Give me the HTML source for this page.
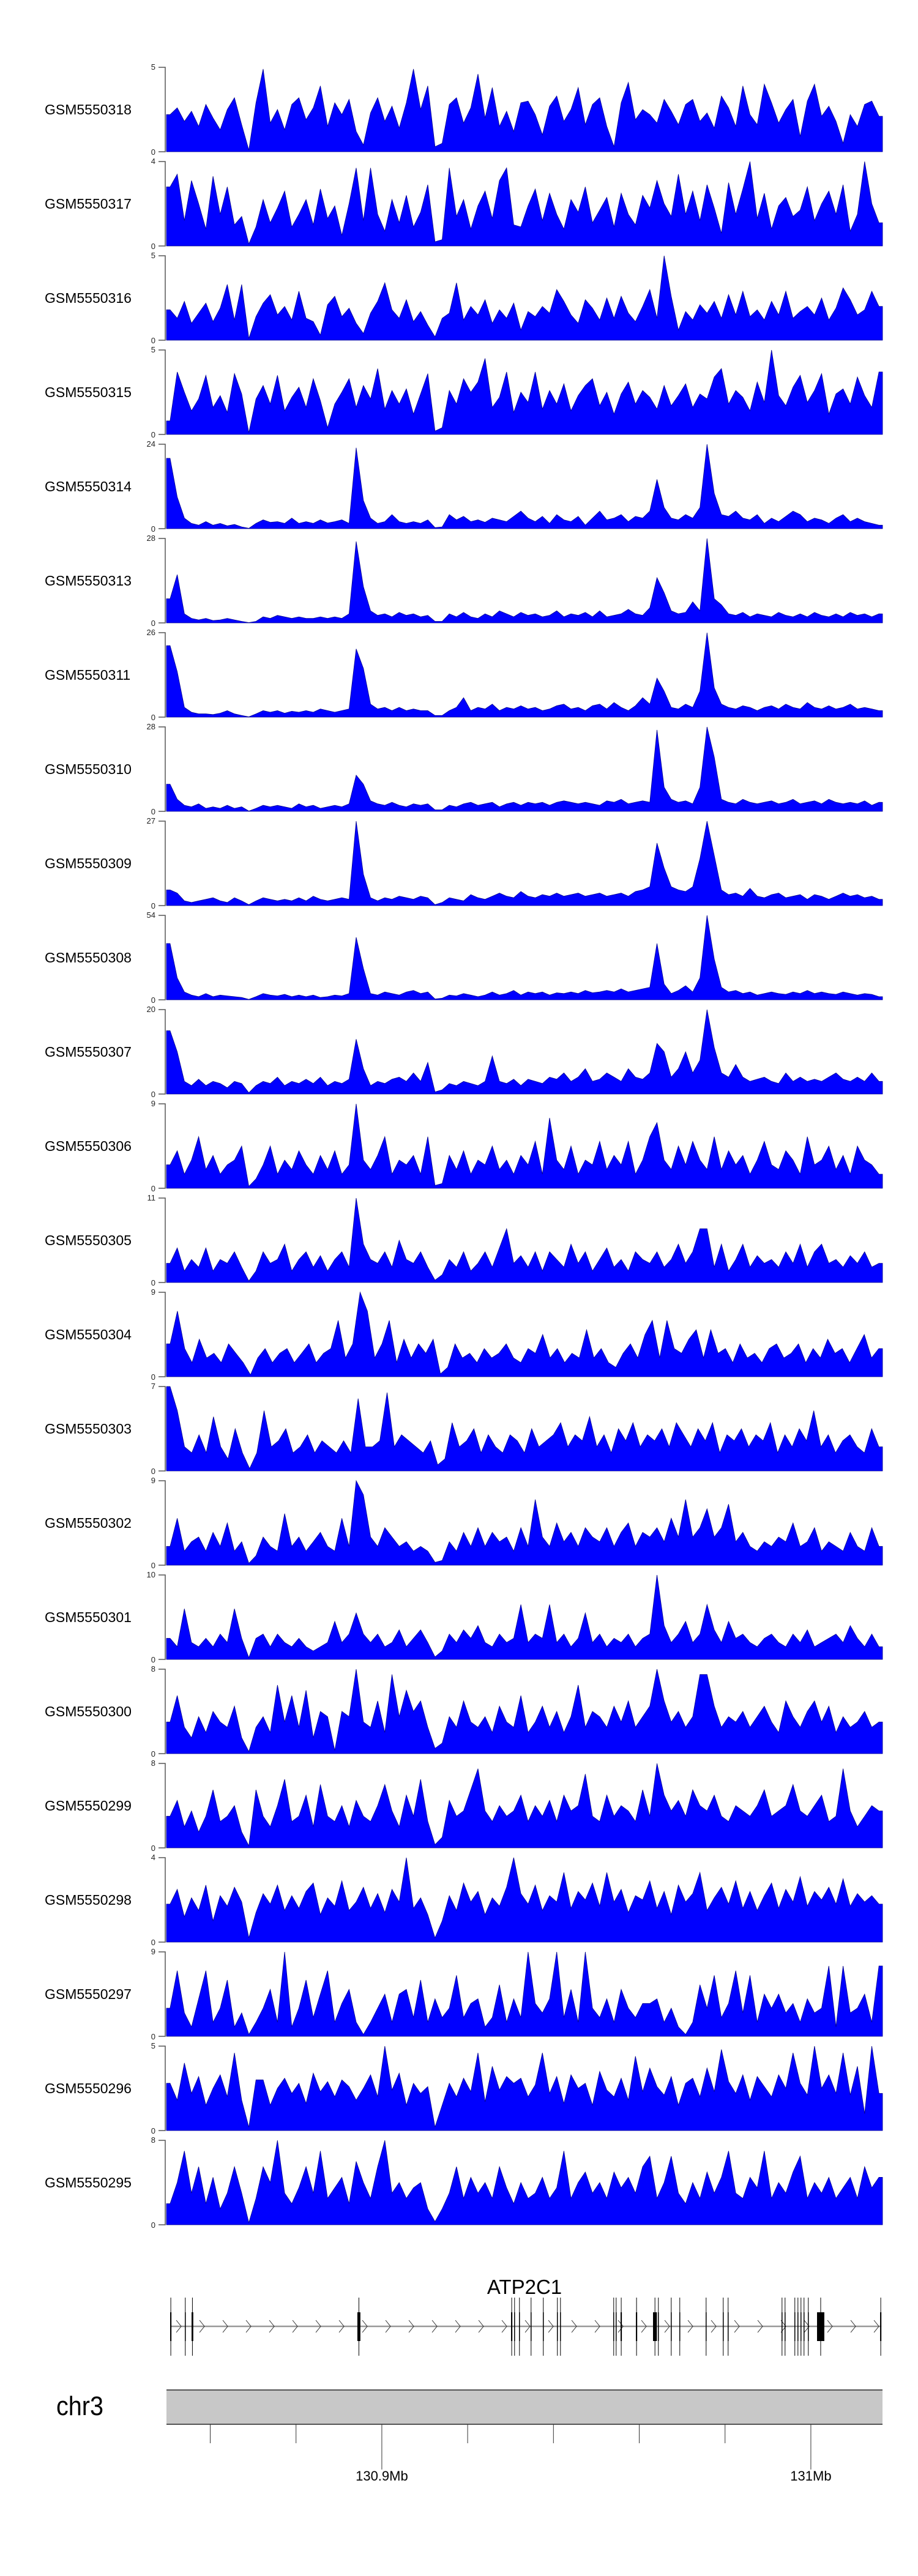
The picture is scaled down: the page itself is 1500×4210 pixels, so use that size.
<!DOCTYPE html>
<html><head><meta charset="utf-8"><style>
html,body{margin:0;padding:0;background:#fff;}
svg{display:block;font-family:"Liberation Sans",Arial,sans-serif;}
</style></head><body>
<svg id="chart" width="1500" height="4210" viewBox="0 0 1500 4210" xmlns="http://www.w3.org/2000/svg">
<rect x="0" y="0" width="1500" height="4210" fill="#fff"/>
</svg>
<script>
const sampleNames=["GSM5550318","GSM5550317","GSM5550316","GSM5550315","GSM5550314","GSM5550313","GSM5550311","GSM5550310","GSM5550309","GSM5550308","GSM5550307","GSM5550306","GSM5550305","GSM5550304","GSM5550303","GSM5550302","GSM5550301","GSM5550300","GSM5550299","GSM5550298","GSM5550297","GSM5550296","GSM5550295"];
const yMaxLabels=[5,4,5,5,24,28,26,28,27,54,20,9,11,9,7,9,10,8,8,4,9,5,8];
const s318=[2.2,2.6,1.8,2.4,1.5,2.8,2.0,1.3,2.5,3.2,1.6,0.1,2.9,4.9,1.7,2.5,1.3,2.8,3.2,1.9,2.6,3.9,1.5,2.9,2.2,3.1,1.2,0.4,2.3,3.2,1.8,2.7,1.4,2.9,4.9,2.5,3.9,0.3,0.5,2.8,3.2,1.7,2.6,4.6,2.0,3.8,1.5,2.4,1.2,2.9,3.0,2.2,1.0,2.7,3.3,1.8,2.5,3.8,1.6,2.8,3.2,1.5,0.3,2.9,4.1,1.9,2.5,2.2,1.7,3.1,2.4,1.6,2.8,3.1,1.8,2.3,1.4,3.3,2.6,1.5,3.9,2.2,1.6,4.0,2.9,1.7,2.5,3.1,0.9,3.0,4.0,2.1,2.7,1.8,0.5,2.2,1.5,2.8,3.0,2.1];
const s317=[2.8,3.4,1.2,3.1,2.0,0.8,3.3,1.5,2.8,1.0,1.4,0.1,0.9,2.2,1.1,1.8,2.6,0.9,1.5,2.2,1.0,2.7,1.3,1.9,0.5,2.0,3.7,1.2,3.7,1.5,0.7,2.2,1.1,2.4,0.9,1.6,2.9,0.2,0.3,3.7,1.4,2.2,0.8,1.9,2.6,1.3,3.1,3.7,1.0,0.9,1.9,2.7,1.2,2.5,1.5,0.8,2.2,1.6,2.8,1.1,1.7,2.3,0.9,2.5,1.5,1.0,2.4,1.8,3.1,2.0,1.4,3.4,1.5,2.6,1.2,2.9,1.8,0.6,3.0,1.5,2.7,4.0,1.3,2.5,0.8,1.9,2.3,1.4,1.7,2.8,1.2,2.0,2.6,1.5,2.9,0.7,1.5,4.0,2.0,1.1];
const s316=[1.8,1.3,2.3,1.0,1.6,2.2,1.1,1.9,3.3,1.2,3.3,0.1,1.4,2.2,2.7,1.5,2.0,1.2,2.9,1.3,1.1,0.3,2.1,2.6,1.4,1.9,1.0,0.4,1.6,2.3,3.4,1.8,1.3,2.4,1.1,1.7,0.9,0.2,1.3,1.6,3.4,1.2,2.0,1.5,2.4,1.0,1.8,1.3,2.2,0.6,1.7,1.4,2.0,1.6,3.0,2.3,1.5,1.0,2.4,1.9,1.2,2.5,1.3,2.6,1.6,1.1,2.0,3.0,1.3,5.0,2.6,0.6,1.7,1.2,2.1,1.6,2.3,1.3,2.7,1.5,2.9,1.4,1.8,1.2,2.3,1.5,2.9,1.3,1.7,2.0,1.5,2.5,1.2,1.9,3.1,2.4,1.5,1.8,2.9,2.0];
const s315=[0.8,3.7,2.5,1.4,2.1,3.5,1.6,2.3,1.3,3.6,2.4,0.1,2.1,2.9,1.8,3.5,1.4,2.2,2.8,1.6,3.3,2.0,0.4,1.8,2.5,3.3,1.6,2.9,2.1,3.9,1.5,2.6,1.8,2.7,1.2,2.4,3.6,0.2,0.4,2.6,1.8,3.3,2.5,3.1,4.5,1.6,2.2,3.7,1.3,2.5,1.9,3.7,1.5,2.6,1.8,3.0,1.4,2.3,2.9,3.3,1.7,2.5,1.2,2.4,3.1,1.8,2.6,2.2,1.5,2.9,1.7,2.3,3.0,1.6,2.4,2.1,3.4,3.9,1.8,2.6,2.2,1.4,3.1,1.9,5.0,2.3,1.7,2.8,3.5,1.9,2.6,3.6,1.2,2.4,2.7,1.8,3.4,2.3,1.6,3.7];
const s314=[20,9,3,1.5,1,2,1,1.5,0.8,1.2,0.5,0.1,1.5,2.5,1.8,2,1.5,3,1.5,2,1.5,2.5,1.6,2,2.5,1.5,23,8,3,1.5,2,4,2,1.5,2,1.5,2.5,0.3,0.5,4,2.5,3.5,2,2.5,1.8,3,2.5,2,3.5,5,3,2,3.5,1.5,4,2.5,2,3.5,1,3,5,2.5,3,4,2,3.5,3,5,14,6,3,2.5,4,3,6,24,10,4,3.5,5,3,2.5,4,1.5,3,2,3.5,5,4,2,3,2.5,1.5,3,4,2,3,2,1.5,1];
const s313=[8,16,3,1.5,1,1.5,0.8,1,1.5,1,0.5,0.1,0.5,2,1.5,2.5,2,1.5,2,1.5,1.5,2,1.5,2,1.5,3,27,12,4,2.5,3,2,3.5,2.5,3,2,2.5,0.5,0.5,3,2,3.5,2,1.5,3,2,4,3,2,3.5,2.5,3,2,2.5,4,2,3,2.5,3.5,2,4,2,2.5,3,4.5,3,2.5,5,15,10,4,3,3.5,7,4,28,8,6,3,2.5,3.5,2,3,2.5,2,3.5,2.5,2,3,2,3.5,2.5,2,3,2,3.5,2.5,3,2,3];
const s311=[22,14,3,1.5,1,1,0.8,1.2,2,1,0.5,0.1,1,2,1.5,2,1.2,1.8,1.5,2,1.5,2.5,2,1.5,2,2.5,21,15,4,2.5,3,2,3,2,2.5,2,2,0.5,0.5,2,3,6,2,3,2.5,4,2,3,2.5,3.5,2.5,3,2,2.5,3.5,4,2.5,3,2,3.5,4,2.5,4.5,3,2,3.5,6,4,12,8,3,2.5,4,3,8,26,9,4,3,2.5,3.5,3,2,3,3.5,2.5,4,3,2.5,4.5,3,2.5,3.5,2.5,3,4,2.5,3,2.5,2];
const s310=[9,4,2,1.5,2.5,1,1.5,1,2,1,1.5,0.1,1,2,1.5,2,1.5,1,2.5,1.5,2,1,1.5,2,1.5,2.5,12,9,3.5,2.5,2,3,2,1.5,2.5,2,2.5,0.5,0.5,2,1.5,2.5,3,2,2.5,3,1.5,2.5,3,2,3,2.5,3,2,3,3.5,3,2.5,3,2.5,2,3.5,3,4,2.5,3,3.5,3,27,8,4,3,3.5,2.5,8,28,18,4,3,2.5,4,3,2.5,3,3.5,2.5,3,4,2.5,3,3.5,2.5,4,3,2.5,3,2.5,3.5,2,3];
const s309=[5,4,1.5,1,1.5,2,2.5,1.5,1,2.5,1.5,0.3,1.5,2.5,2,1.5,2,1.5,2.5,1.5,3,2,1.5,2,2.5,2,27,10,2.5,1.5,2.5,2,3,2.5,2,3,2.5,0.3,1,2.5,2,1.5,3.5,2.5,2,3,4,3,2.5,4.5,3,2.5,3.5,3,4,3,3.5,4,3,3.5,4,3,3.5,4,3,4.5,5,6,20,12,6,5,4.5,6,15,27,16,5,3.5,4,3,5.5,3,2.5,3.5,4,2.5,3,3.5,2,3.5,3,2,3,4,3,3.5,2.5,3,2];
const s308=[36,14,5,3,2,4,2,3,2.5,2,1.5,0.3,2,4,3,2.5,3.5,2,3,2,3,1.5,2,3,2.5,4,40,20,4,3,5,4,3,5,6,4,5,0.5,1,3,2.5,4,3,2,3,5,3,4,6,3,5,4,5,3,4.5,4,5,4,6,4.5,5,6,5,7,5,6,7,8,36,10,4,6,9,5,14,54,26,8,5,6,4,5,3,4,5,4,3.5,5,4,6,4,5,4,3.5,5,4,3,4,3.5,2];
const s307=[15,10,3,2,3.5,2,3,2.5,1.5,3,2.5,0.3,2,3,2.5,4,2,3,2.5,3.5,2.5,4,2,3,2.5,3.5,13,6,2,3,2.5,3.5,4,3,5,3,7.5,0.5,1,2.5,2,3,2.5,2,3,9,3,2.5,3.5,2,3.5,3,2.5,4,3.5,5,3,4,6,3,3.5,5,4,3,6,4,3.5,5,12,10,4,6,10,5,8,20,11,5,4,7,4,3,3.5,4,3,2.5,5,3,4,3,3.5,3,4,5,3.5,3,4,3,5,3];
const s306=[2.5,4,1.5,3,5.5,2,3.5,1.5,2.5,3,4.5,0.2,1,2.5,4.5,1.5,3,2,4,2.5,1.5,3.5,2,4,1.5,2.5,9,3,2,3.5,5.5,1.5,3,2.5,3.5,1.5,5.5,0.3,0.5,3.5,2,4,1.5,3,2.5,4.5,2,3,1.5,3.5,2.5,5,1.5,7.5,3,2,4.5,1.5,3,2.5,5,2,3.5,2.5,5,1.5,3,5.5,7,3,2,4.5,2.5,5,3,2,5.5,2,4,2.5,3.5,1.5,3,5,2.5,2,4,3,1.5,5.5,2.5,3,4.5,2,3.5,1.5,4.5,3,2.5,1.5];
const s305=[2.5,4.5,1.5,3,2,4.5,1.5,3,2.5,4,2,0.2,1.5,4,2.5,3,5,1.5,3,4,2,3.5,1.5,3,4,2,11,5,3,2.5,4,2,5.5,3,2.5,4,2,0.3,1,3,2,4,1.5,2.5,4,2,4.5,7,2.5,3.5,2,4,1.5,4,3,2,5,2.5,4,1.5,3,4.5,2,3,1.5,4,3,2.5,4,2,3,5,2.5,4,7,7,2,5,1.5,3,5,2,3.5,2.5,3,2,4,2.5,5,2,4,5,2.5,3,2,3.5,2.5,4,2,2.5];
const s304=[3.5,7,3,1.5,4,2,2.5,1.5,3.5,2.5,1.5,0.2,2,3,1.5,2.5,3,1.5,2.5,3.5,1.5,2.5,3,6,2,3.5,9,7,2,3.5,6,1.5,4,2,3.5,2.5,4,0.3,1,3.5,2,2.5,1.5,3,2,2.5,3.5,2,1.5,3,2.5,4.5,2,3,1.5,2.5,2,5,2,3,1.5,1,2.5,3.5,2,4.5,6,2,6,3,2.5,4,5,2,5,2.5,3,1.5,3.5,2,2.5,1.5,3,3.5,2,2.5,3.5,1.5,3,2,4,2.5,3,1.5,3,4.5,2,3];
const s303=[7,5,2,1.5,3,1.5,4.5,2,1,3.5,1.5,0.2,1.5,5,2,2.5,3.5,1.5,2,3,1.5,2.5,2,1.5,2.5,1.5,6,2,2,2.5,6.5,2,3,2.5,2,1.5,2.5,0.5,1,4,2,2.5,3.5,1.5,3,2,1.5,3,2.5,1.5,3.5,2,2.5,3,4,2,3,2.5,4.5,2,3,1.5,3.5,2.5,4,2,3,2.5,3.5,2,4,3,2,3.5,2.5,4,1.5,3,2.5,3.5,2,3,2.5,4,1.5,3,2,3.5,2.5,5,2,3,1.5,2.5,3,2,1.5,3.5,2];
const s302=[2,5,1.5,2.5,3,1.5,3.5,2,4.5,1.5,2.5,0.2,1,3,2,1.5,5.5,2,3,1.5,2.5,3.5,2,1.5,5,2,9,7.5,3,2,4,3,2,2.5,1.5,2,1.5,0.3,0.5,2.5,1.5,3.5,2,4,2,3.5,2.5,3,1.5,4,2,7,3,2,4.5,2.5,3.5,2,4,3,2.5,4,2,3.5,4.5,2,3.5,3,4,2.5,5,3,7,3,4,6,3,4,6.5,2.5,3.5,2,1.5,2.5,2,3,2.5,4.5,2,2.5,4,1.5,2.5,2,1.5,3.5,2,1.5,4,2];
const s301=[2.5,1.5,6,2,1.5,2.5,1.5,3,2,6,2.5,0.2,2.5,3,1.5,3,2,1.5,2.5,1.5,1,1.5,2,4.5,2,3,5.5,3,2,3,1.5,2,3.5,1.5,2.5,3.5,2,0.3,1,3,2,3.5,2.5,4,2,1.5,3,2,2.5,6.5,2,3,2.5,6.5,2,3,1.5,2.5,5.5,2,3,1.5,2.5,2,3,1.5,2.5,3,10,4,2,3,4.5,2,3,6.5,3.5,2,4.5,2.5,3,2,1.5,2.5,3,2,1.5,3,2,3.5,1.5,2,2.5,3,2,4,2.5,1.5,3,1.5];
const s300=[3,5.5,2.5,1.5,3.5,2,4,3,2.5,4.5,1.5,0.2,2.5,3.5,2,6.5,3,5.5,2.5,6,1.5,4,3.5,0.3,4,3.5,8,3,2.5,5,2,7.5,3.5,6,4,5,2.5,0.5,1,3.5,2.5,5,3,2.5,3.5,2,4.5,3,2.5,5.5,2,3,4.5,2.5,4,2,3.5,6.5,2.5,4,3.5,2.5,4.5,3,5,2.5,3.5,4.5,8,5,3,4,2.5,3.5,7.5,7.5,4.5,2.5,3.5,3,4,2.5,3.5,4.5,3,2,5,3.5,2.5,4,5,3,4.5,2,3.5,2.5,3,4,2.5,3];
const s299=[3,4.5,2,3.5,1.5,3,5.5,2.5,3,4,1.5,0.2,5.5,3,2,4,6.5,2.5,3,5,2,6,3,2.5,4,2,4.5,3,2.5,4,6,3.5,2,5,3,6.5,2.5,0.3,1,4.5,3,3.5,5.5,7.5,3.5,2.5,4,3,3.5,5,2.5,4,3,4.5,2.5,5,3.5,4,7,3,2.5,5,3,4,3.5,2.5,5.5,3,8,5,3.5,4.5,3,5.5,4,3.5,5,3,2.5,4,3.5,3,4,5.5,3,3.5,4,6,3.5,3,4,5,2.5,3,7.5,3.5,2,3,4,3.5];
const s298=[1.8,2.5,1.2,2.1,1.5,2.7,1.0,2.2,1.7,2.6,1.9,0.2,1.4,2.3,1.8,2.7,1.5,2.2,1.6,2.4,2.8,1.3,2.1,1.7,2.9,1.5,1.9,2.6,1.6,2.3,1.4,2.5,1.9,4.0,1.6,2.1,1.3,0.2,1.0,2.2,1.5,2.8,1.9,2.4,1.3,2.1,1.7,2.6,4.0,2.3,1.8,2.7,1.5,2.2,1.9,3.3,1.6,2.4,2.0,2.8,1.7,3.3,1.9,2.5,1.4,2.2,2.0,2.9,1.6,2.4,1.3,2.7,1.9,2.3,3.3,1.5,2.1,2.6,1.8,2.9,1.6,2.4,1.5,2.2,2.8,1.6,2.5,1.9,3.1,1.7,2.4,2.0,2.6,1.8,3.0,1.7,2.3,1.9,2.2,1.8];
const s297=[3,7,2.5,1,4,7,1.5,3,6,1,2.5,0.2,1.5,3,5,1.5,9,1,3,6,2,4.5,7,1.5,3.5,5,1.5,0.2,1.5,3,4.5,1.5,4.5,5,2,6,1.5,4,2,3,6.5,2,3.5,4,1,2,5.5,1.5,4,2,9,3.5,2.5,4,9,2,5,1.5,9,3,2,4,1.5,5,3,2,3.5,3.5,4,1.5,3,1,0.2,1.5,5.5,3,6.5,2,3.5,7,2.5,6.5,1.5,4.5,3,4.5,2.5,3.5,1.5,4,2.5,3,7.5,1,7.5,2.5,3,4.5,1.5,7.5];
const s296=[2.8,1.8,4,2.2,3.2,1.5,2.5,3.3,2,4.6,1.8,0.2,3,3,1.5,2.5,3.1,2.2,2.8,1.6,3.4,2.3,2.9,2,3,2.6,1.8,2.5,3.3,2,5,2.4,3.4,1.5,2.8,2.2,2.6,0.2,1.5,2.8,2,3.1,2.3,4.6,1.7,3.8,2.4,3.2,2.8,3.1,2,2.7,4.6,2.2,3.2,1.6,3.3,2.5,2.8,1.5,3.5,2.4,2,3.1,1.8,4.4,2.3,3.7,2.6,2.1,3.2,1.5,2.8,3.1,2,3.7,2.3,4.8,2.9,2.2,3.3,1.8,3.2,2.6,2,3.3,2.5,4.6,2.8,2.1,5,2.5,3.3,2.2,4.6,2.1,3.8,1,5,2.2];
const s295=[2,4,7,3,5.5,2,4.5,1.5,3,5.5,3,0.2,2.5,5.5,4,8,3,2,3.5,5.5,3,7,2.5,3.5,4.5,2,6,4,2.5,5.5,8,3,4,2.5,3.5,4,1.5,0.3,1.5,3,5.5,2.5,4.5,3,4,2.5,5.5,3.5,2,4,2.5,3,4.5,2.5,3.5,7,2.5,4,5,3,4,2.5,5,3.5,4.5,3,5.5,6.5,2.5,4,6.5,3,2,4,2.5,5,3,4.5,7,3,2.5,4.5,3.5,7,2.5,4,3,5,6.5,2.5,4,3,4.5,2.5,3.5,4.5,2.5,5.5,3.5,4.5];
const seriesValues=[s318,s317,s316,s315,s314,s313,s311,s310,s309,s308,s307,s306,s305,s304,s303,s302,s301,s300,s299,s298,s297,s296,s295];
// gene model (Mb positions)
const exonStarts=[130.85066,130.85408,130.85565,130.89430,130.93012,130.93083,130.93197,130.93468,130.93753,130.94081,130.94153,130.95394,130.95451,130.95565,130.95922,130.96321,130.96435,130.96735,130.96934,130.97548,130.97947,130.98061,130.99317,130.99388,130.99616,130.99688,130.99759,130.99830,130.99930,131.00144,131.01614];
const exonWidths=[0.0003,0.0002,0.0004,0.0007,0.0003,0.0001,0.0001,0.0001,0.0001,0.0001,0.0001,0.0001,0.0001,0.0003,0.0003,0.0009,0.0001,0.0001,0.0001,0.0001,0.0001,0.0001,0.0001,0.0001,0.0001,0.0001,0.0001,0.0001,0.0001,0.0017,0.0003];
const axisTicks=[130.86,130.88,130.90,130.92,130.94,130.96,130.98,131.00];
const axisTickLabels={"130.9":"130.9Mb","131":"131Mb"};

const NS="http://www.w3.org/2000/svg";
const svg=document.getElementById('chart');
function mk(tag,attrs,parent){const e=document.createElementNS(NS,tag);for(const k in attrs)e.setAttribute(k,attrs[k]);(parent||svg).appendChild(e);return e;}
const X0=272,X1=1442,TOP0=110,PITCH=154,PH=138;
const mbMin=130.8498,mbMax=131.0167;
function xMb(m){return X0+(m-mbMin)/(mbMax-mbMin)*(X1-X0);}

seriesValues.forEach((vals,i)=>{
  const top=TOP0+i*PITCH,bot=top+PH,max=yMaxLabels[i];
  const g=mk('g',{});
  
  
  const lab=mk('text',{x:73,y:top+PH/2+8,'font-size':23,fill:'#000'},g);
  lab.textContent=sampleNames[i];
  
  
  const ax=mk('path',{d:`M259 ${top}H270V${bot}H259`,stroke:'#555',fill:'none','stroke-width':1.5},g);
  
  
  const t1=mk('text',{x:254,y:top+4,'font-size':13,'text-anchor':'end',fill:'#222'},g);
  t1.textContent=max;
  
  
  const t0=mk('text',{x:254,y:bot+5,'font-size':13,'text-anchor':'end',fill:'#222'},g);
  t0.textContent='0';
  
  
  const n=vals.length;
  const xv=k=>X0+(k+0.5)/n*(X1-X0);
  const yv=v=>bot-Math.min(v,max)/max*PH;
  let d=`M${X0} ${bot}L${X0} ${yv(vals[0])}`;
  vals.forEach((v,k)=>{d+=`L${xv(k).toFixed(1)} ${yv(v).toFixed(1)}`;});
  d+=`L${X1} ${yv(vals[n-1])}L${X1} ${bot}Z`;
  const area=mk('path',{d:d,fill:'#0000ff',stroke:'#00008b','stroke-width':0.8,'stroke-linejoin':'miter'},g);
  
  
});

// gene track
const gg=mk('g',{});


const gname=mk('text',{x:857,y:3749,'font-size':33,'text-anchor':'middle',fill:'#000'},gg);
gname.textContent='ATP2C1';


const gStart=xMb(exonStarts[0]),gEnd=xMb(exonStarts[exonStarts.length-1]+exonWidths[exonWidths.length-1]);
const intron=mk('line',{x1:gStart,x2:gEnd,y1:3802,y2:3802,stroke:'#999','stroke-width':2.5},gg);


for(let x=gStart+14;x<gEnd-8;x+=38){
  const c=mk('path',{d:`M${x-4} 3792L${x+4} 3802L${x-4} 3812`,stroke:'#333',fill:'none','stroke-width':1},gg);
  
  
}
exonStarts.forEach((s,k)=>{
  const xa=xMb(s),w=Math.max(1.5,xMb(s+exonWidths[k])-xa);
  const l=mk('line',{x1:xa+w/2,x2:xa+w/2,y1:3755,y2:3850,stroke:'#000','stroke-width':1},gg);
  
  
  const r=mk('rect',{x:xa,y:3779,width:w,height:47,fill:'#000'},gg);
  
  
});

// chromosome axis
const cg=mk('g',{});


const chrLab=mk('text',{x:92,y:3947,'font-size':44,fill:'#000',transform:'translate(92 0) scale(0.9 1) translate(-92 0)'},cg);
chrLab.textContent='chr3';


const bar=mk('rect',{x:X0,y:3906,width:X1-X0,height:56,fill:'#c8c8c8'},cg);


mk('line',{x1:X0,x2:X1,y1:3906,y2:3906,stroke:'#555','stroke-width':2},cg);
mk('line',{x1:X0,x2:X1,y1:3962,y2:3962,stroke:'#555','stroke-width':2},cg);
axisTicks.forEach(t=>{
  const key=String(Math.round(t*100)/100);
  const labelled=axisTickLabels[key]!==undefined;
  const x=xMb(t);
  const tk=mk('line',{x1:x,x2:x,y1:3962,y2:labelled?4036:3993,stroke:'#333','stroke-width':1},cg);
  
  
  if(labelled){
    const tl=mk('text',{x:x,y:4054,'font-size':22,'text-anchor':'middle',fill:'#000'},cg);
    tl.textContent=axisTickLabels[key];
    
    
  }
});
</script>
</body></html>
